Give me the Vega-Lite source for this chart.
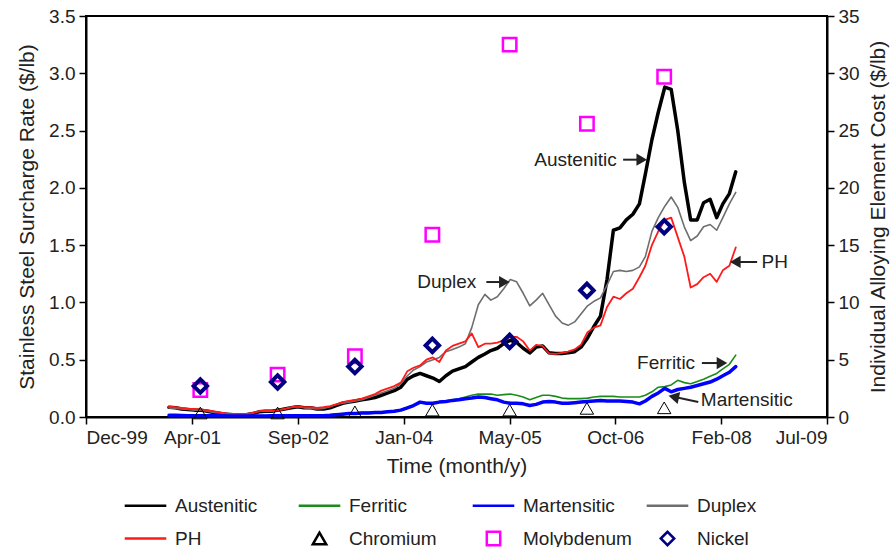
{
  "$schema": "https://vega.github.io/schema/vega-lite/v6.json",
  "width": 741,
  "height": 401,
  "autosize": {"type": "none"},
  "padding": {"left": 86, "top": 16, "right": 64, "bottom": 130},
  "config": {
    "font": "Liberation Sans",
    "view": {"stroke": "black", "strokeWidth": 2},
    "axis": {
      "labelFont": "Liberation Sans", "labelFontSize": 19, "labelColor": "#222",
      "titleFont": "Liberation Sans", "titleFontSize": 21, "titleFontWeight": "normal", "titleColor": "#222",
      "domainColor": "black", "domainWidth": 2, "tickColor": "black", "tickWidth": 1.5, "tickSize": 7,
      "grid": false, "labelPadding": 4
    }
  },
  "datasets": {
    "lines": [
      {"date":"2001-01-01","series":"Austenitic","value":0.085},{"date":"2001-02-01","series":"Austenitic","value":0.08},{"date":"2001-03-01","series":"Austenitic","value":0.07},{"date":"2001-04-01","series":"Austenitic","value":0.065},{"date":"2001-05-01","series":"Austenitic","value":0.06},{"date":"2001-06-01","series":"Austenitic","value":0.06},{"date":"2001-07-01","series":"Austenitic","value":0.05},{"date":"2001-08-01","series":"Austenitic","value":0.04},{"date":"2001-09-01","series":"Austenitic","value":0.03},{"date":"2001-10-01","series":"Austenitic","value":0.025},{"date":"2001-11-01","series":"Austenitic","value":0.02},{"date":"2001-12-01","series":"Austenitic","value":0.02},
      {"date":"2002-01-01","series":"Austenitic","value":0.02},{"date":"2002-02-01","series":"Austenitic","value":0.03},{"date":"2002-03-01","series":"Austenitic","value":0.045},{"date":"2002-04-01","series":"Austenitic","value":0.05},{"date":"2002-05-01","series":"Austenitic","value":0.05},{"date":"2002-06-01","series":"Austenitic","value":0.06},{"date":"2002-07-01","series":"Austenitic","value":0.07},{"date":"2002-08-01","series":"Austenitic","value":0.08},{"date":"2002-09-01","series":"Austenitic","value":0.09},{"date":"2002-10-01","series":"Austenitic","value":0.08},{"date":"2002-11-01","series":"Austenitic","value":0.08},{"date":"2002-12-01","series":"Austenitic","value":0.07},
      {"date":"2003-01-01","series":"Austenitic","value":0.07},{"date":"2003-02-01","series":"Austenitic","value":0.08},{"date":"2003-03-01","series":"Austenitic","value":0.10},{"date":"2003-04-01","series":"Austenitic","value":0.12},{"date":"2003-05-01","series":"Austenitic","value":0.13},{"date":"2003-06-01","series":"Austenitic","value":0.14},{"date":"2003-07-01","series":"Austenitic","value":0.15},{"date":"2003-08-01","series":"Austenitic","value":0.16},{"date":"2003-09-01","series":"Austenitic","value":0.17},{"date":"2003-10-01","series":"Austenitic","value":0.19},{"date":"2003-11-01","series":"Austenitic","value":0.21},{"date":"2003-12-01","series":"Austenitic","value":0.23},
      {"date":"2004-01-01","series":"Austenitic","value":0.26},{"date":"2004-02-01","series":"Austenitic","value":0.33},{"date":"2004-03-01","series":"Austenitic","value":0.36},{"date":"2004-04-01","series":"Austenitic","value":0.38},{"date":"2004-05-01","series":"Austenitic","value":0.36},{"date":"2004-06-01","series":"Austenitic","value":0.34},{"date":"2004-07-01","series":"Austenitic","value":0.31},{"date":"2004-08-01","series":"Austenitic","value":0.36},{"date":"2004-09-01","series":"Austenitic","value":0.40},{"date":"2004-10-01","series":"Austenitic","value":0.42},{"date":"2004-11-01","series":"Austenitic","value":0.44},{"date":"2004-12-01","series":"Austenitic","value":0.48},
      {"date":"2005-01-01","series":"Austenitic","value":0.52},{"date":"2005-02-01","series":"Austenitic","value":0.55},{"date":"2005-03-01","series":"Austenitic","value":0.58},{"date":"2005-04-01","series":"Austenitic","value":0.60},{"date":"2005-05-01","series":"Austenitic","value":0.64},{"date":"2005-06-01","series":"Austenitic","value":0.67},{"date":"2005-07-01","series":"Austenitic","value":0.65},{"date":"2005-08-01","series":"Austenitic","value":0.60},{"date":"2005-09-01","series":"Austenitic","value":0.56},{"date":"2005-10-01","series":"Austenitic","value":0.61},{"date":"2005-11-01","series":"Austenitic","value":0.62},{"date":"2005-12-01","series":"Austenitic","value":0.56},
      {"date":"2006-01-01","series":"Austenitic","value":0.555},{"date":"2006-02-01","series":"Austenitic","value":0.555},{"date":"2006-03-01","series":"Austenitic","value":0.56},{"date":"2006-04-01","series":"Austenitic","value":0.57},{"date":"2006-05-01","series":"Austenitic","value":0.61},{"date":"2006-06-01","series":"Austenitic","value":0.69},{"date":"2006-07-01","series":"Austenitic","value":0.79},{"date":"2006-08-01","series":"Austenitic","value":0.88},{"date":"2006-09-01","series":"Austenitic","value":1.2},{"date":"2006-10-01","series":"Austenitic","value":1.63},{"date":"2006-11-01","series":"Austenitic","value":1.65},{"date":"2006-12-01","series":"Austenitic","value":1.72},
      {"date":"2007-01-01","series":"Austenitic","value":1.77},{"date":"2007-02-01","series":"Austenitic","value":1.86},{"date":"2007-03-01","series":"Austenitic","value":2.12},{"date":"2007-04-01","series":"Austenitic","value":2.42},{"date":"2007-05-01","series":"Austenitic","value":2.66},{"date":"2007-06-01","series":"Austenitic","value":2.88},{"date":"2007-07-01","series":"Austenitic","value":2.86},{"date":"2007-08-01","series":"Austenitic","value":2.50},{"date":"2007-09-01","series":"Austenitic","value":2.05},{"date":"2007-10-01","series":"Austenitic","value":1.72},{"date":"2007-11-01","series":"Austenitic","value":1.72},{"date":"2007-12-01","series":"Austenitic","value":1.87},
      {"date":"2008-01-01","series":"Austenitic","value":1.90},{"date":"2008-02-01","series":"Austenitic","value":1.74},{"date":"2008-03-01","series":"Austenitic","value":1.86},{"date":"2008-04-01","series":"Austenitic","value":1.95},{"date":"2008-05-01","series":"Austenitic","value":2.14},

      {"date":"2001-01-01","series":"Duplex","value":0.08},{"date":"2001-02-01","series":"Duplex","value":0.075},{"date":"2001-03-01","series":"Duplex","value":0.07},{"date":"2001-04-01","series":"Duplex","value":0.065},{"date":"2001-05-01","series":"Duplex","value":0.06},{"date":"2001-06-01","series":"Duplex","value":0.06},{"date":"2001-07-01","series":"Duplex","value":0.05},{"date":"2001-08-01","series":"Duplex","value":0.04},{"date":"2001-09-01","series":"Duplex","value":0.035},{"date":"2001-10-01","series":"Duplex","value":0.03},{"date":"2001-11-01","series":"Duplex","value":0.025},{"date":"2001-12-01","series":"Duplex","value":0.025},
      {"date":"2002-01-01","series":"Duplex","value":0.025},{"date":"2002-02-01","series":"Duplex","value":0.035},{"date":"2002-03-01","series":"Duplex","value":0.05},{"date":"2002-04-01","series":"Duplex","value":0.05},{"date":"2002-05-01","series":"Duplex","value":0.05},{"date":"2002-06-01","series":"Duplex","value":0.06},{"date":"2002-07-01","series":"Duplex","value":0.07},{"date":"2002-08-01","series":"Duplex","value":0.085},{"date":"2002-09-01","series":"Duplex","value":0.09},{"date":"2002-10-01","series":"Duplex","value":0.08},{"date":"2002-11-01","series":"Duplex","value":0.075},{"date":"2002-12-01","series":"Duplex","value":0.07},
      {"date":"2003-01-01","series":"Duplex","value":0.075},{"date":"2003-02-01","series":"Duplex","value":0.09},{"date":"2003-03-01","series":"Duplex","value":0.11},{"date":"2003-04-01","series":"Duplex","value":0.12},{"date":"2003-05-01","series":"Duplex","value":0.13},{"date":"2003-06-01","series":"Duplex","value":0.14},{"date":"2003-07-01","series":"Duplex","value":0.15},{"date":"2003-08-01","series":"Duplex","value":0.17},{"date":"2003-09-01","series":"Duplex","value":0.19},{"date":"2003-10-01","series":"Duplex","value":0.21},{"date":"2003-11-01","series":"Duplex","value":0.23},{"date":"2003-12-01","series":"Duplex","value":0.25},
      {"date":"2004-01-01","series":"Duplex","value":0.29},{"date":"2004-02-01","series":"Duplex","value":0.36},{"date":"2004-03-01","series":"Duplex","value":0.41},{"date":"2004-04-01","series":"Duplex","value":0.44},{"date":"2004-05-01","series":"Duplex","value":0.48},{"date":"2004-06-01","series":"Duplex","value":0.50},{"date":"2004-07-01","series":"Duplex","value":0.52},{"date":"2004-08-01","series":"Duplex","value":0.57},{"date":"2004-09-01","series":"Duplex","value":0.59},{"date":"2004-10-01","series":"Duplex","value":0.61},{"date":"2004-11-01","series":"Duplex","value":0.64},{"date":"2004-12-01","series":"Duplex","value":0.78},
      {"date":"2005-01-01","series":"Duplex","value":0.98},{"date":"2005-02-01","series":"Duplex","value":1.07},{"date":"2005-03-01","series":"Duplex","value":1.02},{"date":"2005-04-01","series":"Duplex","value":1.05},{"date":"2005-05-01","series":"Duplex","value":1.12},{"date":"2005-06-01","series":"Duplex","value":1.20},{"date":"2005-07-01","series":"Duplex","value":1.18},{"date":"2005-08-01","series":"Duplex","value":1.08},{"date":"2005-09-01","series":"Duplex","value":0.97},{"date":"2005-10-01","series":"Duplex","value":1.02},{"date":"2005-11-01","series":"Duplex","value":1.08},{"date":"2005-12-01","series":"Duplex","value":0.98},
      {"date":"2006-01-01","series":"Duplex","value":0.88},{"date":"2006-02-01","series":"Duplex","value":0.82},{"date":"2006-03-01","series":"Duplex","value":0.80},{"date":"2006-04-01","series":"Duplex","value":0.83},{"date":"2006-05-01","series":"Duplex","value":0.90},{"date":"2006-06-01","series":"Duplex","value":0.97},{"date":"2006-07-01","series":"Duplex","value":1.01},{"date":"2006-08-01","series":"Duplex","value":1.04},{"date":"2006-09-01","series":"Duplex","value":1.15},{"date":"2006-10-01","series":"Duplex","value":1.27},{"date":"2006-11-01","series":"Duplex","value":1.28},{"date":"2006-12-01","series":"Duplex","value":1.27},
      {"date":"2007-01-01","series":"Duplex","value":1.28},{"date":"2007-02-01","series":"Duplex","value":1.31},{"date":"2007-03-01","series":"Duplex","value":1.40},{"date":"2007-04-01","series":"Duplex","value":1.62},{"date":"2007-05-01","series":"Duplex","value":1.74},{"date":"2007-06-01","series":"Duplex","value":1.84},{"date":"2007-07-01","series":"Duplex","value":1.92},{"date":"2007-08-01","series":"Duplex","value":1.83},{"date":"2007-09-01","series":"Duplex","value":1.66},{"date":"2007-10-01","series":"Duplex","value":1.54},{"date":"2007-11-01","series":"Duplex","value":1.58},{"date":"2007-12-01","series":"Duplex","value":1.66},
      {"date":"2008-01-01","series":"Duplex","value":1.68},{"date":"2008-02-01","series":"Duplex","value":1.63},{"date":"2008-03-01","series":"Duplex","value":1.74},{"date":"2008-04-01","series":"Duplex","value":1.86},{"date":"2008-05-01","series":"Duplex","value":1.96},

      {"date":"2001-01-01","series":"PH","value":0.09},{"date":"2001-02-01","series":"PH","value":0.085},{"date":"2001-03-01","series":"PH","value":0.08},{"date":"2001-04-01","series":"PH","value":0.07},{"date":"2001-05-01","series":"PH","value":0.07},{"date":"2001-06-01","series":"PH","value":0.065},{"date":"2001-07-01","series":"PH","value":0.06},{"date":"2001-08-01","series":"PH","value":0.05},{"date":"2001-09-01","series":"PH","value":0.04},{"date":"2001-10-01","series":"PH","value":0.03},{"date":"2001-11-01","series":"PH","value":0.025},{"date":"2001-12-01","series":"PH","value":0.025},
      {"date":"2002-01-01","series":"PH","value":0.025},{"date":"2002-02-01","series":"PH","value":0.035},{"date":"2002-03-01","series":"PH","value":0.05},{"date":"2002-04-01","series":"PH","value":0.055},{"date":"2002-05-01","series":"PH","value":0.055},{"date":"2002-06-01","series":"PH","value":0.06},{"date":"2002-07-01","series":"PH","value":0.07},{"date":"2002-08-01","series":"PH","value":0.085},{"date":"2002-09-01","series":"PH","value":0.095},{"date":"2002-10-01","series":"PH","value":0.085},{"date":"2002-11-01","series":"PH","value":0.085},{"date":"2002-12-01","series":"PH","value":0.08},
      {"date":"2003-01-01","series":"PH","value":0.085},{"date":"2003-02-01","series":"PH","value":0.095},{"date":"2003-03-01","series":"PH","value":0.11},{"date":"2003-04-01","series":"PH","value":0.13},{"date":"2003-05-01","series":"PH","value":0.14},{"date":"2003-06-01","series":"PH","value":0.15},{"date":"2003-07-01","series":"PH","value":0.16},{"date":"2003-08-01","series":"PH","value":0.18},{"date":"2003-09-01","series":"PH","value":0.20},{"date":"2003-10-01","series":"PH","value":0.23},{"date":"2003-11-01","series":"PH","value":0.25},{"date":"2003-12-01","series":"PH","value":0.27},
      {"date":"2004-01-01","series":"PH","value":0.30},{"date":"2004-02-01","series":"PH","value":0.40},{"date":"2004-03-01","series":"PH","value":0.43},{"date":"2004-04-01","series":"PH","value":0.45},{"date":"2004-05-01","series":"PH","value":0.50},{"date":"2004-06-01","series":"PH","value":0.52},{"date":"2004-07-01","series":"PH","value":0.48},{"date":"2004-08-01","series":"PH","value":0.58},{"date":"2004-09-01","series":"PH","value":0.62},{"date":"2004-10-01","series":"PH","value":0.64},{"date":"2004-11-01","series":"PH","value":0.66},{"date":"2004-12-01","series":"PH","value":0.73},
      {"date":"2005-01-01","series":"PH","value":0.61},{"date":"2005-02-01","series":"PH","value":0.64},{"date":"2005-03-01","series":"PH","value":0.64},{"date":"2005-04-01","series":"PH","value":0.65},{"date":"2005-05-01","series":"PH","value":0.67},{"date":"2005-06-01","series":"PH","value":0.70},{"date":"2005-07-01","series":"PH","value":0.70},{"date":"2005-08-01","series":"PH","value":0.66},{"date":"2005-09-01","series":"PH","value":0.58},{"date":"2005-10-01","series":"PH","value":0.63},{"date":"2005-11-01","series":"PH","value":0.62},{"date":"2005-12-01","series":"PH","value":0.555},
      {"date":"2006-01-01","series":"PH","value":0.55},{"date":"2006-02-01","series":"PH","value":0.56},{"date":"2006-03-01","series":"PH","value":0.57},{"date":"2006-04-01","series":"PH","value":0.59},{"date":"2006-05-01","series":"PH","value":0.63},{"date":"2006-06-01","series":"PH","value":0.74},{"date":"2006-07-01","series":"PH","value":0.78},{"date":"2006-08-01","series":"PH","value":0.80},{"date":"2006-09-01","series":"PH","value":0.96},{"date":"2006-10-01","series":"PH","value":1.05},{"date":"2006-11-01","series":"PH","value":1.03},{"date":"2006-12-01","series":"PH","value":1.08},
      {"date":"2007-01-01","series":"PH","value":1.12},{"date":"2007-02-01","series":"PH","value":1.22},{"date":"2007-03-01","series":"PH","value":1.32},{"date":"2007-04-01","series":"PH","value":1.50},{"date":"2007-05-01","series":"PH","value":1.62},{"date":"2007-06-01","series":"PH","value":1.72},{"date":"2007-07-01","series":"PH","value":1.74},{"date":"2007-08-01","series":"PH","value":1.57},{"date":"2007-09-01","series":"PH","value":1.40},{"date":"2007-10-01","series":"PH","value":1.13},{"date":"2007-11-01","series":"PH","value":1.16},{"date":"2007-12-01","series":"PH","value":1.22},
      {"date":"2008-01-01","series":"PH","value":1.25},{"date":"2008-02-01","series":"PH","value":1.18},{"date":"2008-03-01","series":"PH","value":1.28},{"date":"2008-04-01","series":"PH","value":1.32},{"date":"2008-05-01","series":"PH","value":1.48},

      {"date":"2001-01-01","series":"Ferritic","value":0.02},{"date":"2001-02-01","series":"Ferritic","value":0.02},{"date":"2001-03-01","series":"Ferritic","value":0.018},{"date":"2001-04-01","series":"Ferritic","value":0.017},{"date":"2001-05-01","series":"Ferritic","value":0.015},{"date":"2001-06-01","series":"Ferritic","value":0.015},{"date":"2001-07-01","series":"Ferritic","value":0.015},{"date":"2001-08-01","series":"Ferritic","value":0.015},{"date":"2001-09-01","series":"Ferritic","value":0.015},{"date":"2001-10-01","series":"Ferritic","value":0.013},{"date":"2001-11-01","series":"Ferritic","value":0.013},{"date":"2001-12-01","series":"Ferritic","value":0.013},
      {"date":"2002-01-01","series":"Ferritic","value":0.013},{"date":"2002-02-01","series":"Ferritic","value":0.013},{"date":"2002-03-01","series":"Ferritic","value":0.013},{"date":"2002-04-01","series":"Ferritic","value":0.013},{"date":"2002-05-01","series":"Ferritic","value":0.015},{"date":"2002-06-01","series":"Ferritic","value":0.015},{"date":"2002-07-01","series":"Ferritic","value":0.015},{"date":"2002-08-01","series":"Ferritic","value":0.015},{"date":"2002-09-01","series":"Ferritic","value":0.015},{"date":"2002-10-01","series":"Ferritic","value":0.015},{"date":"2002-11-01","series":"Ferritic","value":0.015},{"date":"2002-12-01","series":"Ferritic","value":0.015},
      {"date":"2003-01-01","series":"Ferritic","value":0.017},{"date":"2003-02-01","series":"Ferritic","value":0.02},{"date":"2003-03-01","series":"Ferritic","value":0.025},{"date":"2003-04-01","series":"Ferritic","value":0.03},{"date":"2003-05-01","series":"Ferritic","value":0.035},{"date":"2003-06-01","series":"Ferritic","value":0.035},{"date":"2003-07-01","series":"Ferritic","value":0.04},{"date":"2003-08-01","series":"Ferritic","value":0.04},{"date":"2003-09-01","series":"Ferritic","value":0.045},{"date":"2003-10-01","series":"Ferritic","value":0.045},{"date":"2003-11-01","series":"Ferritic","value":0.05},{"date":"2003-12-01","series":"Ferritic","value":0.055},
      {"date":"2004-01-01","series":"Ferritic","value":0.065},{"date":"2004-02-01","series":"Ferritic","value":0.085},{"date":"2004-03-01","series":"Ferritic","value":0.105},{"date":"2004-04-01","series":"Ferritic","value":0.13},{"date":"2004-05-01","series":"Ferritic","value":0.125},{"date":"2004-06-01","series":"Ferritic","value":0.125},{"date":"2004-07-01","series":"Ferritic","value":0.135},{"date":"2004-08-01","series":"Ferritic","value":0.14},{"date":"2004-09-01","series":"Ferritic","value":0.15},{"date":"2004-10-01","series":"Ferritic","value":0.16},{"date":"2004-11-01","series":"Ferritic","value":0.175},{"date":"2004-12-01","series":"Ferritic","value":0.19},
      {"date":"2005-01-01","series":"Ferritic","value":0.20},{"date":"2005-02-01","series":"Ferritic","value":0.20},{"date":"2005-03-01","series":"Ferritic","value":0.20},{"date":"2005-04-01","series":"Ferritic","value":0.19},{"date":"2005-05-01","series":"Ferritic","value":0.195},{"date":"2005-06-01","series":"Ferritic","value":0.20},{"date":"2005-07-01","series":"Ferritic","value":0.19},{"date":"2005-08-01","series":"Ferritic","value":0.175},{"date":"2005-09-01","series":"Ferritic","value":0.15},{"date":"2005-10-01","series":"Ferritic","value":0.17},{"date":"2005-11-01","series":"Ferritic","value":0.19},{"date":"2005-12-01","series":"Ferritic","value":0.19},
      {"date":"2006-01-01","series":"Ferritic","value":0.18},{"date":"2006-02-01","series":"Ferritic","value":0.165},{"date":"2006-03-01","series":"Ferritic","value":0.16},{"date":"2006-04-01","series":"Ferritic","value":0.16},{"date":"2006-05-01","series":"Ferritic","value":0.16},{"date":"2006-06-01","series":"Ferritic","value":0.165},{"date":"2006-07-01","series":"Ferritic","value":0.175},{"date":"2006-08-01","series":"Ferritic","value":0.18},{"date":"2006-09-01","series":"Ferritic","value":0.18},{"date":"2006-10-01","series":"Ferritic","value":0.18},{"date":"2006-11-01","series":"Ferritic","value":0.175},{"date":"2006-12-01","series":"Ferritic","value":0.175},
      {"date":"2007-01-01","series":"Ferritic","value":0.175},{"date":"2007-02-01","series":"Ferritic","value":0.175},{"date":"2007-03-01","series":"Ferritic","value":0.19},{"date":"2007-04-01","series":"Ferritic","value":0.22},{"date":"2007-05-01","series":"Ferritic","value":0.26},{"date":"2007-06-01","series":"Ferritic","value":0.265},{"date":"2007-07-01","series":"Ferritic","value":0.28},{"date":"2007-08-01","series":"Ferritic","value":0.32},{"date":"2007-09-01","series":"Ferritic","value":0.30},{"date":"2007-10-01","series":"Ferritic","value":0.29},{"date":"2007-11-01","series":"Ferritic","value":0.31},{"date":"2007-12-01","series":"Ferritic","value":0.33},
      {"date":"2008-01-01","series":"Ferritic","value":0.355},{"date":"2008-02-01","series":"Ferritic","value":0.38},{"date":"2008-03-01","series":"Ferritic","value":0.42},{"date":"2008-04-01","series":"Ferritic","value":0.46},{"date":"2008-05-01","series":"Ferritic","value":0.54},

      {"date":"2001-01-01","series":"Martensitic","value":0.015},{"date":"2001-02-01","series":"Martensitic","value":0.015},{"date":"2001-03-01","series":"Martensitic","value":0.013},{"date":"2001-04-01","series":"Martensitic","value":0.012},{"date":"2001-05-01","series":"Martensitic","value":0.01},{"date":"2001-06-01","series":"Martensitic","value":0.01},{"date":"2001-07-01","series":"Martensitic","value":0.01},{"date":"2001-08-01","series":"Martensitic","value":0.01},{"date":"2001-09-01","series":"Martensitic","value":0.01},{"date":"2001-10-01","series":"Martensitic","value":0.008},{"date":"2001-11-01","series":"Martensitic","value":0.008},{"date":"2001-12-01","series":"Martensitic","value":0.008},
      {"date":"2002-01-01","series":"Martensitic","value":0.008},{"date":"2002-02-01","series":"Martensitic","value":0.008},{"date":"2002-03-01","series":"Martensitic","value":0.008},{"date":"2002-04-01","series":"Martensitic","value":0.008},{"date":"2002-05-01","series":"Martensitic","value":0.01},{"date":"2002-06-01","series":"Martensitic","value":0.01},{"date":"2002-07-01","series":"Martensitic","value":0.01},{"date":"2002-08-01","series":"Martensitic","value":0.01},{"date":"2002-09-01","series":"Martensitic","value":0.01},{"date":"2002-10-01","series":"Martensitic","value":0.01},{"date":"2002-11-01","series":"Martensitic","value":0.01},{"date":"2002-12-01","series":"Martensitic","value":0.01},
      {"date":"2003-01-01","series":"Martensitic","value":0.012},{"date":"2003-02-01","series":"Martensitic","value":0.015},{"date":"2003-03-01","series":"Martensitic","value":0.02},{"date":"2003-04-01","series":"Martensitic","value":0.025},{"date":"2003-05-01","series":"Martensitic","value":0.03},{"date":"2003-06-01","series":"Martensitic","value":0.03},{"date":"2003-07-01","series":"Martensitic","value":0.035},{"date":"2003-08-01","series":"Martensitic","value":0.035},{"date":"2003-09-01","series":"Martensitic","value":0.04},{"date":"2003-10-01","series":"Martensitic","value":0.04},{"date":"2003-11-01","series":"Martensitic","value":0.045},{"date":"2003-12-01","series":"Martensitic","value":0.05},
      {"date":"2004-01-01","series":"Martensitic","value":0.06},{"date":"2004-02-01","series":"Martensitic","value":0.08},{"date":"2004-03-01","series":"Martensitic","value":0.10},{"date":"2004-04-01","series":"Martensitic","value":0.13},{"date":"2004-05-01","series":"Martensitic","value":0.12},{"date":"2004-06-01","series":"Martensitic","value":0.12},{"date":"2004-07-01","series":"Martensitic","value":0.13},{"date":"2004-08-01","series":"Martensitic","value":0.135},{"date":"2004-09-01","series":"Martensitic","value":0.145},{"date":"2004-10-01","series":"Martensitic","value":0.15},{"date":"2004-11-01","series":"Martensitic","value":0.16},{"date":"2004-12-01","series":"Martensitic","value":0.165},
      {"date":"2005-01-01","series":"Martensitic","value":0.175},{"date":"2005-02-01","series":"Martensitic","value":0.17},{"date":"2005-03-01","series":"Martensitic","value":0.16},{"date":"2005-04-01","series":"Martensitic","value":0.15},{"date":"2005-05-01","series":"Martensitic","value":0.13},{"date":"2005-06-01","series":"Martensitic","value":0.12},{"date":"2005-07-01","series":"Martensitic","value":0.12},{"date":"2005-08-01","series":"Martensitic","value":0.115},{"date":"2005-09-01","series":"Martensitic","value":0.10},{"date":"2005-10-01","series":"Martensitic","value":0.11},{"date":"2005-11-01","series":"Martensitic","value":0.13},{"date":"2005-12-01","series":"Martensitic","value":0.135},
      {"date":"2006-01-01","series":"Martensitic","value":0.13},{"date":"2006-02-01","series":"Martensitic","value":0.12},{"date":"2006-03-01","series":"Martensitic","value":0.12},{"date":"2006-04-01","series":"Martensitic","value":0.125},{"date":"2006-05-01","series":"Martensitic","value":0.13},{"date":"2006-06-01","series":"Martensitic","value":0.135},{"date":"2006-07-01","series":"Martensitic","value":0.14},{"date":"2006-08-01","series":"Martensitic","value":0.145},{"date":"2006-09-01","series":"Martensitic","value":0.14},{"date":"2006-10-01","series":"Martensitic","value":0.14},{"date":"2006-11-01","series":"Martensitic","value":0.14},{"date":"2006-12-01","series":"Martensitic","value":0.135},
      {"date":"2007-01-01","series":"Martensitic","value":0.13},{"date":"2007-02-01","series":"Martensitic","value":0.115},{"date":"2007-03-01","series":"Martensitic","value":0.14},{"date":"2007-04-01","series":"Martensitic","value":0.18},{"date":"2007-05-01","series":"Martensitic","value":0.21},{"date":"2007-06-01","series":"Martensitic","value":0.25},{"date":"2007-07-01","series":"Martensitic","value":0.22},{"date":"2007-08-01","series":"Martensitic","value":0.24},{"date":"2007-09-01","series":"Martensitic","value":0.25},{"date":"2007-10-01","series":"Martensitic","value":0.26},{"date":"2007-11-01","series":"Martensitic","value":0.275},{"date":"2007-12-01","series":"Martensitic","value":0.29},
      {"date":"2008-01-01","series":"Martensitic","value":0.305},{"date":"2008-02-01","series":"Martensitic","value":0.33},{"date":"2008-03-01","series":"Martensitic","value":0.36},{"date":"2008-04-01","series":"Martensitic","value":0.39},{"date":"2008-05-01","series":"Martensitic","value":0.44}
    ],
    "elements": [
      {"date":"2001-05-29","series":"Chromium","cost":0.35},{"date":"2002-05-29","series":"Chromium","cost":0.35},{"date":"2003-05-29","series":"Chromium","cost":0.45},{"date":"2004-05-29","series":"Chromium","cost":0.6},{"date":"2005-05-29","series":"Chromium","cost":0.6},{"date":"2006-05-29","series":"Chromium","cost":0.75},{"date":"2007-05-29","series":"Chromium","cost":0.8},
      {"date":"2001-05-29","series":"Molybdenum","cost":2.35},{"date":"2002-05-29","series":"Molybdenum","cost":3.7},{"date":"2003-05-29","series":"Molybdenum","cost":5.3},{"date":"2004-05-29","series":"Molybdenum","cost":15.9},{"date":"2005-05-29","series":"Molybdenum","cost":32.5},{"date":"2006-05-29","series":"Molybdenum","cost":25.6},{"date":"2007-05-29","series":"Molybdenum","cost":29.7},
      {"date":"2001-05-29","series":"Nickel","cost":2.7},{"date":"2002-05-29","series":"Nickel","cost":3.05},{"date":"2003-05-29","series":"Nickel","cost":4.4},{"date":"2004-05-29","series":"Nickel","cost":6.25},{"date":"2005-05-29","series":"Nickel","cost":6.6},{"date":"2006-05-29","series":"Nickel","cost":11.05},{"date":"2007-05-29","series":"Nickel","cost":16.6}
    ],
    "notes": [
      {"date":"2006-04-05","value":2.246,"label":"Austenitic"},
      {"date":"2004-08-05","value":1.178,"label":"Duplex"},
      {"date":"2008-11-01","value":1.353,"label":"PH"},
      {"date":"2007-06-07","value":0.471,"label":"Ferritic"},
      {"date":"2008-06-22","value":0.146,"label":"Martensitic"}
    ],
    "arrows": [
      {"date":"2006-11-16","date2":"2007-02-09","value":2.246,"value2":2.246},
      {"date":"2005-02-08","date2":"2005-05-04","value":1.178,"value2":1.178},
      {"date":"2007-11-23","date2":"2008-02-26","value":0.471,"value2":0.471},
      {"date":"2008-04-29","date2":"2008-08-10","value":1.353,"value2":1.353},
      {"date":"2007-07-13","date2":"2007-11-06","value":0.176,"value2":0.131}
    ],
    "headsRight": [
      {"date":"2007-02-12","value":2.246},
      {"date":"2005-05-04","value":1.178},
      {"date":"2008-02-26","value":0.471}
    ],
    "headsLeft": [
      {"date":"2008-04-29","value":1.353}
    ],
    "headsTilt": [
      {"date":"2007-07-13","value":0.176}
    ]
  },
  "encoding": {
    "x": {
      "field": "date", "type": "temporal",
      "scale": {"type": "utc", "domain": [{"year": 1999, "month": 12, "date": 6, "utc": true}, {"year": 2009, "month": 7, "date": 6, "utc": true}]},
      "axis": {
        "title": "Time (month/y)", "format": "%b-%y", "titlePadding": 8,
        "values": [
          {"year": 1999, "month": 12, "date": 6, "utc": true},
          {"year": 2001, "month": 4, "date": 20, "utc": true},
          {"year": 2002, "month": 9, "date": 2, "utc": true},
          {"year": 2004, "month": 1, "date": 15, "utc": true},
          {"year": 2005, "month": 5, "date": 29, "utc": true},
          {"year": 2006, "month": 10, "date": 10, "utc": true},
          {"year": 2008, "month": 2, "date": 22, "utc": true},
          {"year": 2009, "month": 7, "date": 6, "utc": true}
        ]
      }
    }
  },
  "layer": [
    {
      "data": {"name": "lines"},
      "mark": {"type": "line", "strokeJoin": "round", "strokeCap": "round"},
      "encoding": {
        "y": {"field": "value", "type": "quantitative", "scale": {"domain": [0, 3.5], "nice": false},
          "axis": {"title": "Stainless Steel Surcharge Rate ($/lb)", "values": [0, 0.5, 1, 1.5, 2, 2.5, 3, 3.5], "format": ".1f", "titlePadding": 11}},
        "color": {"field": "series", "type": "nominal", "title": null,
          "scale": {"domain": ["Austenitic", "Ferritic", "Martensitic", "Duplex", "PH", "Chromium", "Molybdenum", "Nickel"],
                    "range": ["#000000", "#1a8c1a", "#0000ff", "#6e6e6e", "#ff1a1a", "#000000", "#ff00ff", "#000080"]},
          "legend": {"orient": "none", "direction": "horizontal", "legendX": 50, "legendY": 479, "columns": 4, "gridAlign": "all", "columnPadding": 9, "rowPadding": 9,
            "labelFontSize": 19, "labelFont": "Liberation Sans", "labelColor": "#222", "labelOffset": 20, "padding": 0, "symbolSize": 180, "symbolStrokeWidth": 2.5}},
        "strokeWidth": {"field": "series", "type": "nominal", "title": null, "legend": null,
          "scale": {"type": "ordinal", "domain": ["Austenitic", "Ferritic", "Martensitic", "Duplex", "PH", "Chromium", "Molybdenum", "Nickel"],
                    "range": [3.5, 1.6, 3.5, 1.6, 1.8, 2, 2, 2]}},
        "order": {"field": "series", "type": "nominal"}
      }
    },
    {
      "data": {"name": "elements"},
      "mark": {"type": "point", "filled": false, "opacity": 1, "size": 180},
      "encoding": {
        "y": {"field": "cost", "type": "quantitative", "scale": {"domain": [0, 35], "nice": false},
          "axis": {"orient": "right", "title": "Individual Alloying Element Cost ($/lb)", "titleAngle": 270, "titleX": 51, "titleY": 200.5, "titleAlign": "center", "titleBaseline": "middle", "values": [0, 5, 10, 15, 20, 25, 30, 35]}},
        "color": {"field": "series", "type": "nominal", "title": null},
        "shape": {"field": "series", "type": "nominal", "title": null,
          "scale": {"domain": ["Austenitic", "Ferritic", "Martensitic", "Duplex", "PH", "Chromium", "Molybdenum", "Nickel"],
                    "range": ["M-3.1,0L3.1,0", "M-3.1,0L3.1,0", "M-3.1,0L3.1,0", "M-3.1,0L3.1,0", "M-3.1,0L3.1,0", "triangle-up", "square", "diamond"]}},
        "strokeWidth": {"field": "series", "type": "nominal", "title": null, "legend": null}
      }
    },
    {
      "data": {"name": "notes"},
      "mark": {"type": "text", "fontSize": 19, "font": "Liberation Sans", "color": "#222", "baseline": "middle", "align": "center"},
      "encoding": {
        "y": {"field": "value", "type": "quantitative", "scale": {"domain": [0, 3.5], "nice": false}, "axis": null},
        "text": {"field": "label"}
      }
    },
    {
      "data": {"name": "arrows"},
      "mark": {"type": "rule", "color": "#222", "strokeWidth": 2},
      "encoding": {
        "x2": {"field": "date2"},
        "y": {"field": "value", "type": "quantitative", "scale": {"domain": [0, 3.5], "nice": false}, "axis": null},
        "y2": {"field": "value2"}
      }
    },
    {
      "data": {"name": "headsRight"},
      "mark": {"type": "point", "shape": "triangle-right", "filled": true, "color": "#222", "size": 150, "opacity": 1},
      "encoding": {
        "y": {"field": "value", "type": "quantitative", "scale": {"domain": [0, 3.5], "nice": false}, "axis": null}
      }
    },
    {
      "data": {"name": "headsLeft"},
      "mark": {"type": "point", "shape": "triangle-left", "filled": true, "color": "#222", "size": 150, "opacity": 1},
      "encoding": {
        "y": {"field": "value", "type": "quantitative", "scale": {"domain": [0, 3.5], "nice": false}, "axis": null}
      }
    },
    {
      "data": {"name": "headsTilt"},
      "mark": {"type": "point", "shape": "triangle-left", "filled": true, "color": "#222", "size": 150, "opacity": 1, "angle": 12},
      "encoding": {
        "y": {"field": "value", "type": "quantitative", "scale": {"domain": [0, 3.5], "nice": false}, "axis": null}
      }
    }
  ],
  "resolve": {"scale": {"y": "independent"}}
}
